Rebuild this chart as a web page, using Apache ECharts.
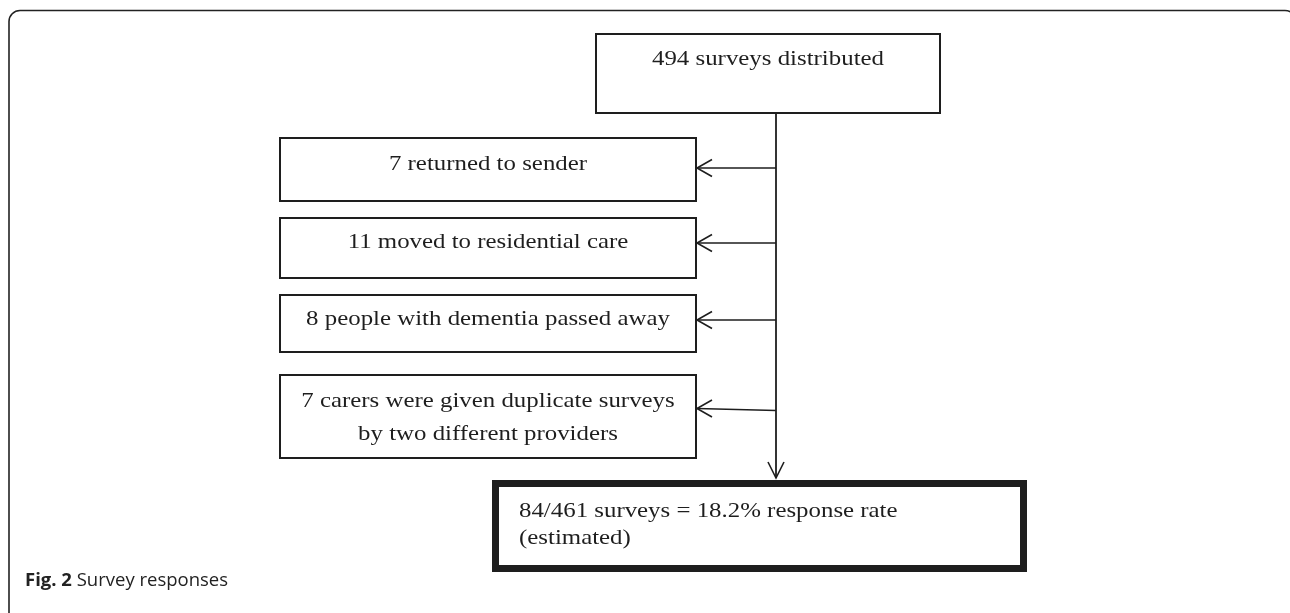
<!DOCTYPE html>
<html>
<head>
<meta charset="utf-8">
<script src="https://cdn.jsdelivr.net/npm/echarts@6/dist/echarts.min.js"></script>
<style>
html,body{margin:0;padding:0;background:#fff;}
#chart{width:1290px;height:613px;}
</style>
</head>
<body>
<div id="chart"></div>
<script>
// ---- data ----
const distributedCount = 494;
const exclusionCounts = [7, 11, 8, 7];
const exclusionReasons = [
  'returned to sender',
  'moved to residential care',
  'people with dementia passed away',
  'carers were given duplicate surveys\nby two different providers'
];
const responseCount = 84;
const eligibleCount = 461;
const responseRate = 18.2;
const captionLabel = 'Fig. 2';
const captionText = 'Survey responses';

// ---- layout ----
const INK = '#1e1e1e';
const SERIF = '"Liberation Serif","Times New Roman",serif';
const FS = 22, SX = 1.13;
const spineX = 776;
const topBox = {x: 596, y: 34, w: 344, h: 79, base: 65};
const exBoxes = [
  {y: 138, h: 63, base: 170, ay: 168, ay2: 168},
  {y: 218, h: 60, base: 248, ay: 243, ay2: 243},
  {y: 295, h: 57, base: 325, ay: 320, ay2: 320},
  {y: 375, h: 83, base: 407, ay: 408.5, ay2: 410.5}
];
const exLeft = 280, exRight = 696;
const bottomBox = {x: 495.5, y: 483.5, w: 528, h: 85, tx: 519, base: 517};

// one text element per line, positioned by its baseline
function textEls(str, x, baseline, align, lineGap) {
  return str.split('\n').map(function (line, i) {
    return {
      type: 'text', x: x, y: baseline + i * lineGap - 6, scaleX: SX, originX: 0, originY: 0,
      style: {text: line, x: 0, y: 0, font: FS + 'px ' + SERIF, fill: INK,
        align: align, verticalAlign: 'middle'}
    };
  });
}
function rectEl(x, y, w, h, lw) {
  return {type: 'rect', shape: {x: x, y: y, width: w, height: h},
    style: {fill: 'none', stroke: INK, lineWidth: lw}};
}
function lineEl(x1, y1, x2, y2, lw) {
  return {type: 'line', shape: {x1: x1, y1: y1, x2: x2, y2: y2},
    style: {stroke: INK, lineWidth: lw || 1.6}};
}
function leftArrow(xTip, y) {
  return {type: 'polyline', shape: {points: [[xTip + 15, y - 8.5], [xTip, y], [xTip + 15, y + 8.5]]},
    style: {fill: 'none', stroke: INK, lineWidth: 1.6}};
}
function downArrow(x, yTip) {
  return {type: 'polyline', shape: {points: [[x - 8, yTip - 16], [x, yTip], [x + 8, yTip - 16]]},
    style: {fill: 'none', stroke: INK, lineWidth: 1.6}};
}

const els = [];
// outer frame
els.push({type: 'rect', shape: {x: 9, y: 10.5, width: 1287, height: 700, r: 11},
  style: {fill: 'none', stroke: '#222', lineWidth: 1.6}});
// top box
els.push(rectEl(topBox.x, topBox.y, topBox.w, topBox.h, 2));
els.push.apply(els, textEls(distributedCount + ' surveys distributed', topBox.x + topBox.w / 2, topBox.base, 'center', 33));
// spine
els.push(lineEl(spineX, topBox.y + topBox.h, spineX, 478, 1.8));
els.push(downArrow(spineX, 478));
// exclusion boxes
exBoxes.forEach(function (b, i) {
  els.push(rectEl(exLeft, b.y, exRight - exLeft, b.h, 2));
  els.push.apply(els, textEls(exclusionCounts[i] + ' ' + exclusionReasons[i], (exLeft + exRight) / 2, b.base, 'center', 33));
  els.push(lineEl(spineX, b.ay2, exRight + 1, b.ay, 1.6));
  els.push(leftArrow(exRight + 1, b.ay));
});
// bottom box
els.push(rectEl(bottomBox.x, bottomBox.y, bottomBox.w, bottomBox.h, 7));
els.push.apply(els, textEls(responseCount + '/' + eligibleCount + ' surveys = ' + responseRate + '% response rate\n(estimated)',
  bottomBox.tx, bottomBox.base, 'left', 27));
// caption
els.push({type: 'text', x: 25, y: 581,
  style: {text: '{b|' + captionLabel + '} ' + captionText, x: 0, y: 0,
    font: '18.5px "Open Sans", sans-serif', fill: '#222', verticalAlign: 'middle', align: 'left',
    rich: {b: {fontWeight: 'bold', fontFamily: '"Open Sans", sans-serif', fontSize: 18.5, fill: '#222'}}}});

const chart = echarts.init(document.getElementById('chart'), null, {renderer: 'canvas'});
chart.setOption({animation: false, graphic: {elements: els}});
</script>
</body>
</html>
